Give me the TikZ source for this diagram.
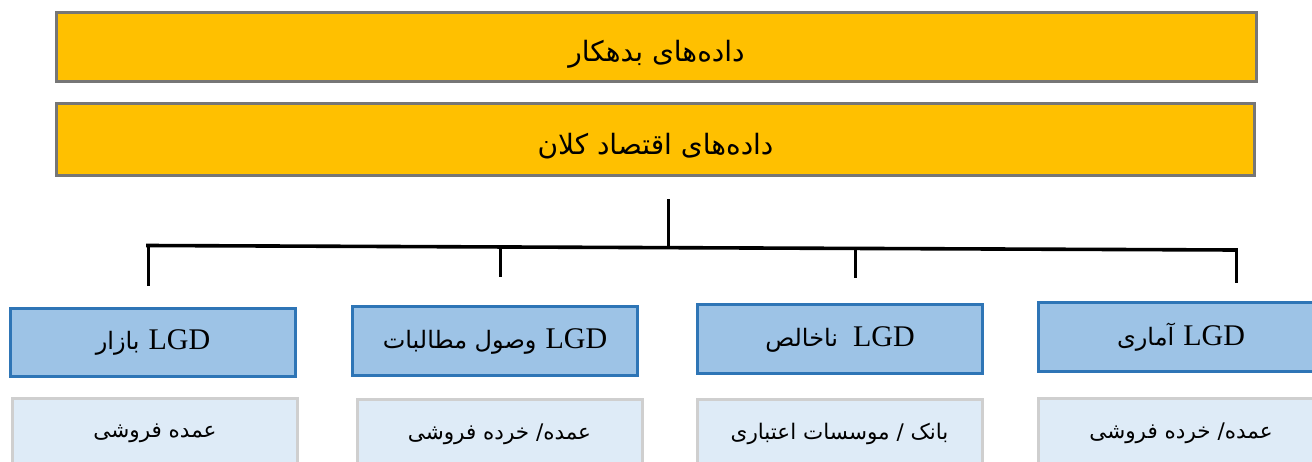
\documentclass[tikz,border=0pt]{standalone}
\usepackage{fontspec}
\TeXXeTstate=1
\newfontfamily\fa[Script=Arabic]{DejaVu Sans}
\newfontfamily\lat{Liberation Serif}
\definecolor{barfill}{HTML}{FFC000}
\definecolor{bargray}{HTML}{767676}
\definecolor{bluefill}{HTML}{9DC3E6}
\definecolor{blueline}{HTML}{2E75B6}
\definecolor{lightfill}{HTML}{DEEBF7}
\definecolor{lightline}{HTML}{CFCFCF}
\tikzset{
  bar/.style={draw=bargray, fill=barfill, line width=3pt, minimum width=1200pt, minimum height=69pt, inner sep=0pt, text height=31pt, text depth=2pt},
  bluebox/.style={draw=blueline, fill=bluefill, line width=3pt, minimum width=285pt, minimum height=68pt, inner sep=0pt},
  lightbox/.style={draw=lightline, fill=lightfill, line width=3pt, minimum width=285pt, minimum height=70pt, inner sep=0pt},
  conn/.style={draw=black, line width=3pt},
  bus/.style={draw=black, line width=3.6pt},
}
\newcommand{\bartext}[1]{{\fa\fontsize{28}{32}\selectfont\beginR #1\endR}}
\newcommand{\lgdtext}[1]{{\beginR{\lat\fontsize{30}{32}\selectfont\beginL LGD\endL}\hspace{9pt}{\fa\fontsize{24}{28}\selectfont #1}\endR}}
\newcommand{\lighttext}[1]{{\fa\fontsize{21.5}{24}\selectfont\beginR #1\endR}}
\begin{document}
\begin{tikzpicture}[x=1pt,y=-1pt]
\useasboundingbox (0,0) rectangle (1312,461);
\begin{scope}
\clip (0,0) rectangle (1312,461);
\node[bar] (b1) at (656.5,47) {\bartext{داده‌های بدهکار}};
\node[bar, minimum width=1198pt, minimum height=72pt] (b2) at (655.5,139.5) {\bartext{داده‌های اقتصاد کلان}};

\node[bluebox] (g1) at (153,342.5) {\lgdtext{بازار}};
\node[bluebox, minimum height=69pt] (g2) at (495,341) {\lgdtext{وصول مطالبات}};
\node[bluebox, minimum height=69pt] (g3) at (840,339) {\lgdtext{\hspace{6pt}ناخالص}};
\node[bluebox, minimum height=69pt] (g4) at (1181,337) {\lgdtext{آماری}};

\node[lightbox] (l1) at (155,433) {\lighttext{عمده فروشی}};
\node[lightbox] (l2) at (499.5,434) {\lighttext{عمده/ خرده فروشی}};
\node[lightbox] (l3) at (839.5,434) {\lighttext{بانک / موسسات اعتباری}};
\node[lightbox] (l4) at (1181,433) {\lighttext{عمده/ خرده فروشی}};
\end{scope}

\coordinate (stem) at (668,199);
\coordinate (busL) at (148,245.5);
\coordinate (busR) at (1236,250);
\coordinate (j0) at (668,247.7);
\coordinate (j1) at (148,245.5);
\coordinate (j2) at (500,247);
\coordinate (j3) at (855,248.4);
\coordinate (j4) at (1236,250);
\coordinate (d1) at (148,286);
\coordinate (d2) at (500,277);
\coordinate (d3) at (855,278);
\coordinate (d4) at (1236,283);

\draw[conn] (stem) -- (j0);
\draw[bus, line cap=rect] (busL) -- (busR);
\draw[conn] (j1) -- (d1);
\draw[conn] (j2) -- (d2);
\draw[conn] (j3) -- (d3);
\draw[conn] (j4) -- (d4);
\end{tikzpicture}
\end{document}
